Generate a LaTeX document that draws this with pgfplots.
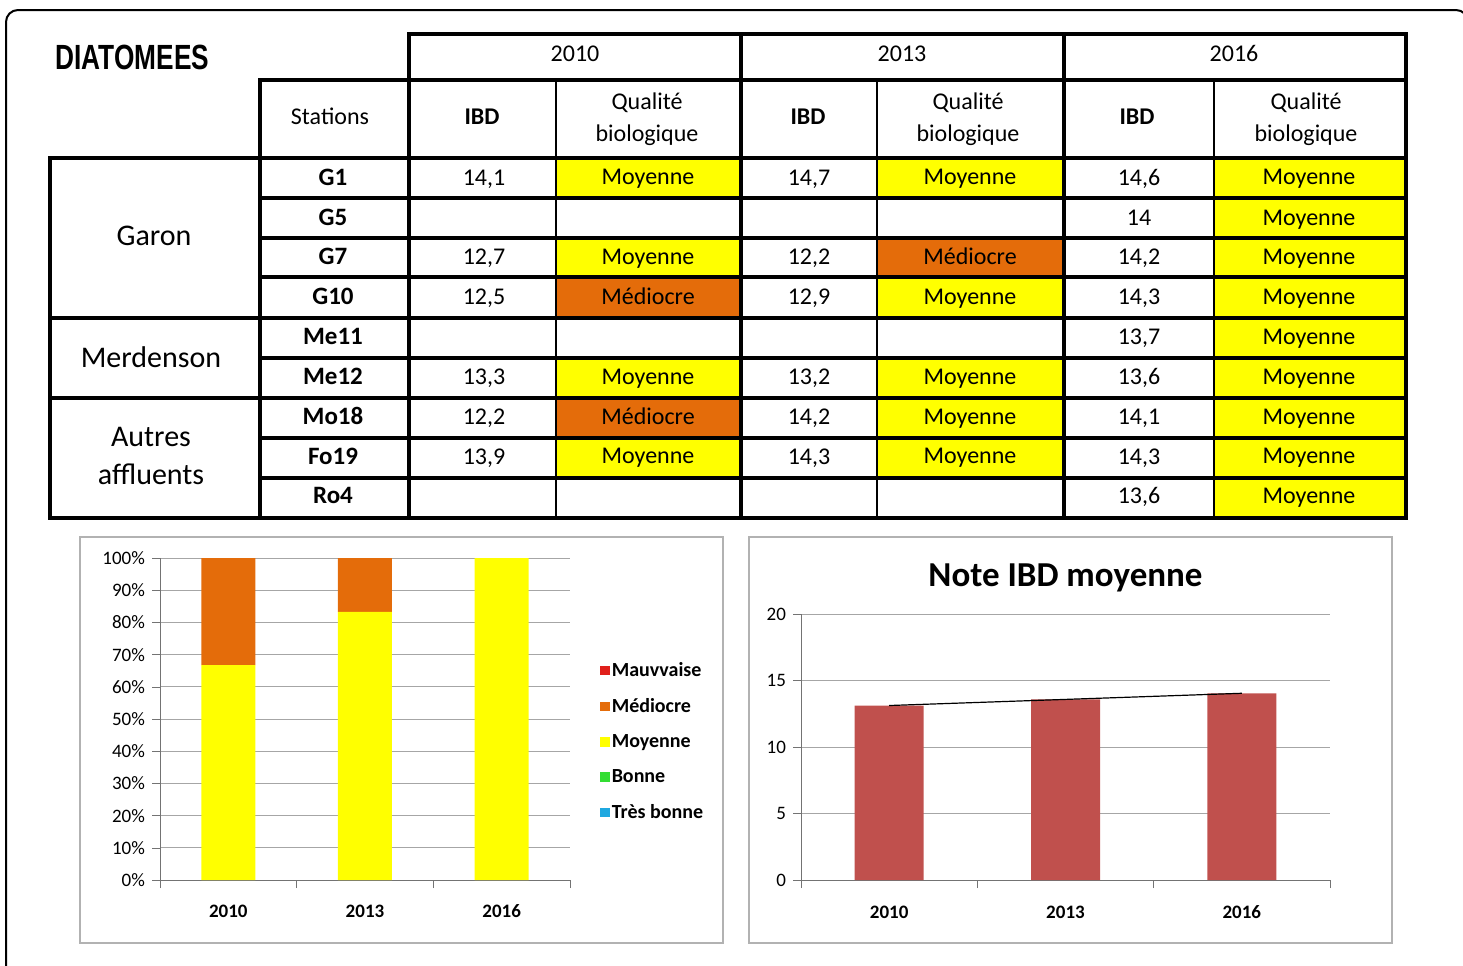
\documentclass[border=0pt]{standalone}
\usepackage{pgfplots}
\pgfplotsset{compat=1.18}
\usepackage{fontspec}
\usepackage{graphicx}
\setmainfont{Carlito}
\newfontfamily\arialf{Liberation Sans}

\definecolor{jaune}{HTML}{FFFF00}
\definecolor{orangeq}{HTML}{E46C0A}
\definecolor{rougeq}{HTML}{E0201B}
\definecolor{vertq}{HTML}{33DD33}
\definecolor{bleuq}{HTML}{1FA8E0}
\definecolor{barre}{HTML}{C0504D}

\pgfplotsset{sq/.style={legend image code/.code={\path[##1,draw=none] (0pt,-2.4pt) rectangle (4.8pt,2.4pt);}}}

\newcommand{\cell}{\fontsize{12}{14}\selectfont}
\newcommand{\stat}{\bfseries\fontsize{12.5}{14}\selectfont}

\begin{document}
\begin{tikzpicture}
\useasboundingbox (0,0) rectangle (731.5pt,-482.5pt);
% title, outside the shifted-node scope
\node[anchor=west, inner sep=0pt] at (27.5pt,-28.5pt) {\scalebox{0.75}[1]{\arialf\bfseries\fontsize{17.5}{20}\selectfont DIATOMEES}};
\begin{scope}[x=0.5pt,y=-0.5pt, every node/.style={text height=8.6pt, text depth=2.4pt, yshift=-1pt}]
% outer frame
\draw[line width=1pt, rounded corners=6pt] (6,980) -- (6,10) -- (1468,10) -- (1468,980);

% coloured cells
\fill[jaune]   (556,158) rectangle (741,198);
\fill[jaune]   (556,238) rectangle (741,277);
\fill[orangeq] (556,277) rectangle (741,318);
\fill[jaune]   (556,358) rectangle (741,398);
\fill[orangeq] (556,398) rectangle (741,438);
\fill[jaune]   (556,438) rectangle (741,478);

\fill[jaune]   (877,158) rectangle (1064,198);
\fill[orangeq] (877,238) rectangle (1064,277);
\fill[jaune]   (877,277) rectangle (1064,318);
\fill[jaune]   (877,358) rectangle (1064,398);
\fill[jaune]   (877,398) rectangle (1064,438);
\fill[jaune]   (877,438) rectangle (1064,478);

\fill[jaune]   (1214,158) rectangle (1406,518);

% grid of the table
\begin{scope}[line width=1.8pt, line cap=rect]
\draw (409,34) -- (1406,34);
\draw (260,80) -- (1406,80);
\draw (50,158) -- (1406,158);
\foreach \y in {198,238,277,358,438,478} \draw (260,\y) -- (1406,\y);
\foreach \y in {318,398,518} \draw (50,\y) -- (1406,\y);
\draw (50,158) -- (50,518);
\draw (260,80) -- (260,518);
\foreach \x in {409,741,1064,1406} \draw (\x,34) -- (\x,518);
\foreach \x in {556,877,1214} \draw[line width=1.4pt] (\x,80) -- (\x,518);
\end{scope}

% header
\node[font=\cell] at (575,53) {2010};
\node[font=\cell] at (902,53) {2013};
\node[font=\cell] at (1234,53) {2016};
\node[font=\cell] at (330,116) {Stations};
\node[font=\cell\bfseries] at (482,116) {IBD};
\node[font=\cell\bfseries] at (808,116) {IBD};
\node[font=\cell\bfseries] at (1137,116) {IBD};
\foreach \x in {647,968,1306} {
  \node[font=\cell] at (\x,101) {Qualité};
  \node[font=\cell] at (\x,133) {biologique};
}

% groups
\node[font=\fontsize{15}{19}\selectfont] at (154,237) {Garon};
\node[font=\fontsize{15}{19}\selectfont] at (151,359) {Merdenson};
\node[font=\fontsize{15}{19}\selectfont] at (151,438) {Autres};
\node[font=\fontsize{15}{19}\selectfont] at (151,476) {affluents};

% stations
\foreach \y/\s in {177/G1,217/G5,256/G7,296/G10,336/Me11,376/Me12,416/Mo18,456/Fo19,495/Ro4}
  \node[font=\stat] at (333,\y) {\s};

% IBD 2010
\foreach \y/\v in {177/{14,1},256/{12,7},296/{12,5},376/{13,3},416/{12,2},456/{13,9}}
  \node[font=\cell] at (484,\y) {\v};
% IBD 2013
\foreach \y/\v in {177/{14,7},256/{12,2},296/{12,9},376/{13,2},416/{14,2},456/{14,3}}
  \node[font=\cell] at (809,\y) {\v};
% IBD 2016
\foreach \y/\v in {177/{14,6},217/{14},256/{14,2},296/{14,3},336/{13,7},376/{13,6},416/{14,1},456/{14,3},495/{13,6}}
  \node[font=\cell] at (1139,\y) {\v};

% qualities
\foreach \y/\q in {176/Moyenne,256/Moyenne,296/Médiocre,376/Moyenne,416/Médiocre,455/Moyenne}
  \node[font=\cell] at (648,\y) {\q};
\foreach \y/\q in {176/Moyenne,256/Médiocre,296/Moyenne,376/Moyenne,416/Moyenne,455/Moyenne}
  \node[font=\cell] at (970,\y) {\q};
\foreach \y in {176,217,256,296,336,376,416,455,495}
  \node[font=\cell] at (1309,\y) {Moyenne};

% chart frames
\draw[black!30, line width=0.7pt] (80,537) rectangle (723,943);
\draw[black!30, line width=0.7pt] (749,537) rectangle (1392,943);
\end{scope}

% left chart: distribution of quality classes
\begin{axis}[
  at={(80pt,-440pt)}, anchor=south west,
  scale only axis, width=205pt, height=161pt,
  xmin=-0.5, xmax=2.5, ymin=0, ymax=100,
  ybar stacked, bar width=27pt,
  axis x line*=bottom, axis y line*=left,
  axis line style={black!55},
  ytick={0,10,...,100},
  yticklabel={\pgfmathprintnumber{\tick}\%},
  ymajorgrids, grid style={black!35, line width=0.5pt},
  xtick={0,1,2}, xticklabels={2010,2013,2016},
  minor xtick={-0.5,0.5,1.5,2.5},
  major x tick style={draw=none},
  minor x tick style={black!55},
  ytick style={black!55},
  tick align=outside, major tick length=4pt, minor tick length=4pt,
  tick label style={font=\fontsize{9.5}{10}\selectfont},
  xticklabel style={font=\bfseries\fontsize{9.5}{10}\selectfont, text height=7pt, text depth=0pt, yshift=-4pt},
  /pgf/number format/assume math mode=true,
  legend style={at={(1.058,0.43)}, anchor=west, draw=none, fill=none,
    font=\bfseries\fontsize{10}{11}\selectfont, row sep=7.5pt,
    nodes={inner sep=1pt}},
  legend cell align=left,
]
\addplot[fill=jaune, draw=none, forget plot] coordinates {(0,66.7) (1,83.3) (2,100)};
\addplot[fill=orangeq, draw=none, forget plot] coordinates {(0,33.3) (1,16.7) (2,0)};
\addlegendimage{sq, fill=rougeq}
\addlegendentry{Mauvvaise}
\addlegendimage{sq, fill=orangeq}
\addlegendentry{Médiocre}
\addlegendimage{sq, fill=jaune}
\addlegendentry{Moyenne}
\addlegendimage{sq, fill=vertq}
\addlegendentry{Bonne}
\addlegendimage{sq, fill=bleuq}
\addlegendentry{Très bonne}
\end{axis}

% right chart: mean IBD
\begin{axis}[
  at={(400.5pt,-440pt)}, anchor=south west,
  scale only axis, width=264.5pt, height=133pt,
  xmin=-0.5, xmax=2.5, ymin=0, ymax=20,
  axis x line*=bottom, axis y line*=left,
  axis line style={black!55},
  ytick={0,5,...,20},
  ymajorgrids, grid style={black!35, line width=0.5pt},
  xtick={0,1,2}, xticklabels={2010,2013,2016},
  minor xtick={-0.5,0.5,1.5,2.5},
  major x tick style={draw=none},
  minor x tick style={black!55},
  ytick style={black!55},
  tick align=outside, major tick length=4pt, minor tick length=4pt,
  tick label style={font=\fontsize{9.5}{10}\selectfont},
  xticklabel style={font=\bfseries\fontsize{9.5}{10}\selectfont, text height=7pt, text depth=0pt, yshift=-4.5pt},
  /pgf/number format/assume math mode=true,
  title={Note IBD moyenne},
  title style={font=\bfseries\fontsize{17.5}{19}\selectfont, at={(0.5,1)}, anchor=center, yshift=12pt},
]
\addplot[ybar, bar width=34.5pt, fill=barre, draw=none] coordinates {(0,13.12) (1,13.58) (2,14.04)};
\addplot[sharp plot, black, line width=0.6pt, no marks] coordinates {(0,13.12) (1,13.58) (2,14.04)};
\end{axis}
\end{tikzpicture}
\end{document}
